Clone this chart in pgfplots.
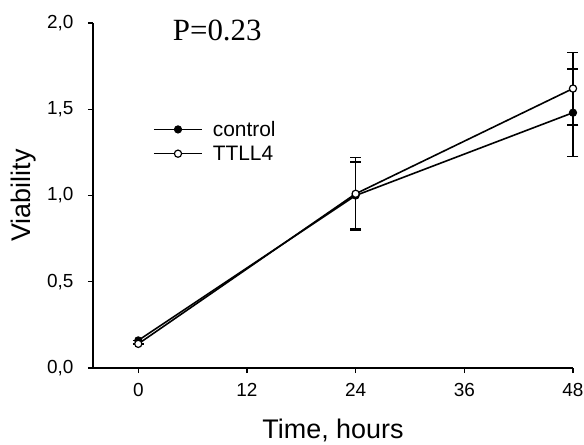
\documentclass[border=0pt]{standalone}
\usepackage{pgfplots}
\pgfplotsset{compat=1.18}
\usepackage{pgfplotstable}
\usepackage{fontspec}
\setmainfont{Liberation Sans}
\newfontfamily\pserif{Liberation Serif}

\pgfplotstableread{
t c ce
0 0.16 0
24 1.00 0.195
48 1.48 0.255
}\control
\pgfplotstableread{
t v ve
0 0.14 0
24 1.01 0.21
48 1.62 0.21
}\ttll

\begin{document}
\begin{tikzpicture}
\useasboundingbox (-93bp,-77bp) rectangle (491bp,368bp);
\begin{axis}[
  at={(0,0)}, anchor=south west,
  scale only axis, width=480bp, height=345bp,
  axis x line*=bottom, axis y line*=left,
  axis line style={line width=1.4bp},
  xmin=-5, xmax=48, ymin=0, ymax=2,
  xtick={0,12,24,36,48},
  ytick={0,0.5,1,1.5,2},
  tick align=outside, major tick length=5bp,
  tick style={line width=1.2bp, black},
  /pgf/number format/assume math mode=true,
  yticklabel style={font=\fontsize{19}{21}\selectfont, /pgf/number format/.cd, use comma, fixed, fixed zerofill, precision=1, /tikz/.cd, xshift=-11bp},
  xticklabel style={font=\fontsize{19}{21}\selectfont, yshift=-7bp},
  xlabel={Time, hours},
  ylabel={Viability},
  label style={font=\fontsize{27}{30}\selectfont},
  xlabel style={at={(axis description cs:0.5,-0.1797)}, anchor=center},
  ylabel style={at={(axis description cs:-0.14375,0.5)}, anchor=center, rotate=0},
  clip=false,
  legend style={draw=none, fill=none, at={(axis description cs:0.125,0.722)}, anchor=north west,
    font=\fontsize{21}{24}\selectfont, row sep=4bp, inner sep=0pt,
    /tikz/every odd column/.append style={column sep=8bp}},
  legend cell align=left,
  legend image code/.code={\draw[mark repeat=2,mark phase=2,#1] plot coordinates {(0bp,0bp) (24bp,0bp) (48bp,0bp)};},
]
\addplot[black, line width=1.6bp, mark=*, mark size=3.6bp, mark options={fill=black, line width=1bp},
  error bars/.cd, y dir=both, y explicit,
  error bar style={line width=1.6bp},
  error mark options={rotate=90, mark size=5.5bp, line width=1.6bp}]
  table[x=t, y=c, y error=ce] {\control};
\addlegendentry{control}
\addplot[black, line width=1.6bp, mark=*, mark size=3.6bp, mark options={fill=white, line width=1.2bp},
  error bars/.cd, y dir=both, y explicit,
  error bar style={line width=1.6bp},
  error mark options={rotate=90, mark size=5.5bp, line width=1.6bp}]
  table[x=t, y=v, y error=ve] {\ttll};
\addlegendentry{TTLL4}
\node[font=\pserif\fontsize{31}{34}\selectfont, anchor=base] at (axis cs:8.72,1.90) {P=0.23};
\end{axis}
\end{tikzpicture}
\end{document}
